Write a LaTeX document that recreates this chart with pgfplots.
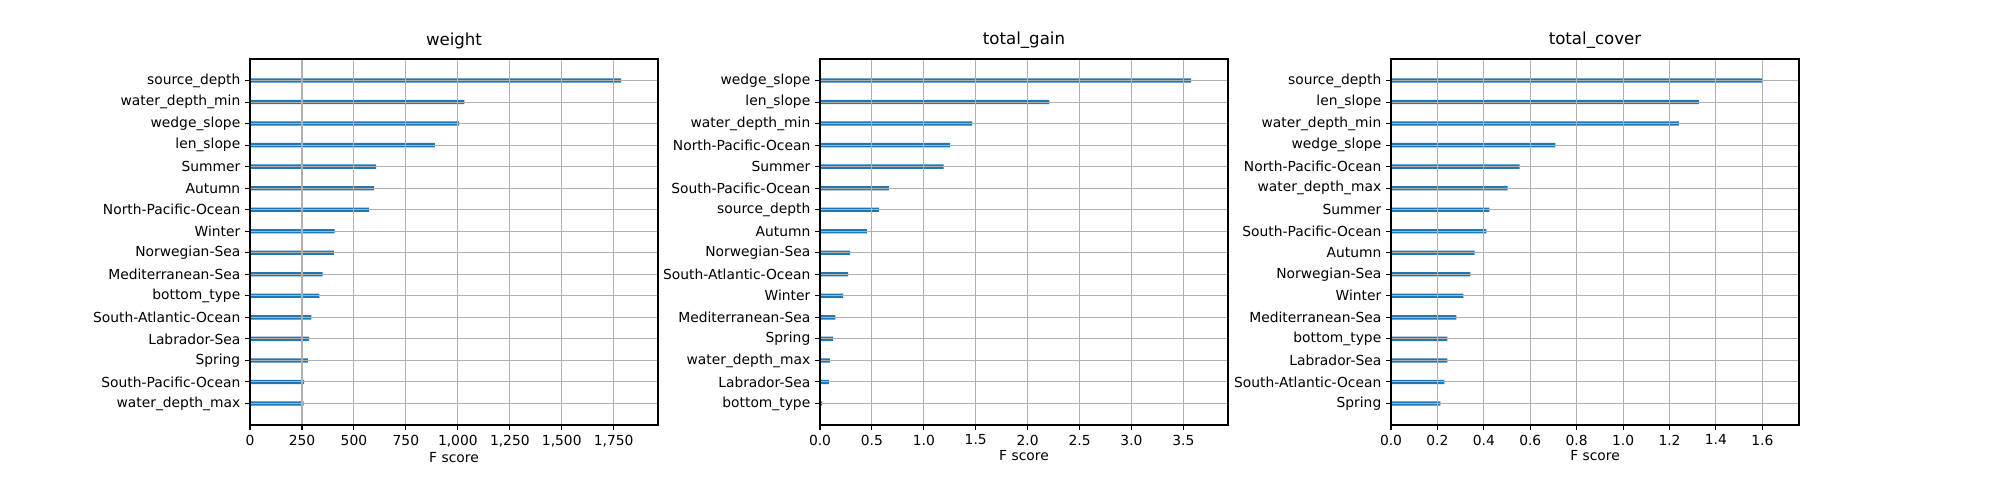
\documentclass[border=0pt]{standalone}
\usepackage{pgfplots}
\pgfplotsset{compat=1.18}
\usepackage{fontspec}
\setmainfont{DejaVu Sans}
\definecolor{mblue}{HTML}{1F77B4}
\definecolor{mgrid}{HTML}{B0B0B0}
\pgfplotsset{
  imp/.style={
    width=4.08in, height=3.66in, scale only axis, anchor=south west,
    xbar, bar width=0.2, ymin=-1, ymax=16, xmin=0,
    ytick={0,...,15}, grid=both, major grid style={mgrid, line width=0.8pt},
    axis on top, tick align=outside, tick pos=left,
    major tick length=3.5pt, tick style={black, line width=0.8pt},
    axis line style={line width=0.8pt},
    /pgf/number format/assume math mode=true,
    ticklabel style={font=\fontsize{10}{12}\selectfont},
    title style={font=\fontsize{12}{14}\selectfont, yshift=-2pt},
    xlabel style={font=\fontsize{10}{12}\selectfont, yshift=3pt},
    xlabel={F score},
  }
}
\begin{document}
\begin{tikzpicture}
\path[use as bounding box] (0,0) rectangle (20in,5in);
\begin{axis}[imp, at={(2.50in,0.75in)}, title={weight}, xmax=1963,
  xtick={0,250,...,1750},
  yticklabels={water\_depth\_max,South-Pacific-Ocean,Spring,Labrador-Sea,South-Atlantic-Ocean,bottom\_type,Mediterranean-Sea,Norwegian-Sea,Winter,North-Pacific-Ocean,Autumn,Summer,len\_slope,wedge\_slope,water\_depth\_min,source\_depth}]
\addplot[fill=mblue, draw=none] coordinates {(258,0) (260,1) (278,2) (285,3) (295,4) (334,5) (349,6) (403,7) (407,8) (573,9) (597,10) (607,11) (890,12) (1006,13) (1031,14) (1785,15)};
\end{axis}
\begin{axis}[imp, at={(8.20in,0.75in)}, title={total\_gain}, xmax=3.93,
  xtick={0,0.5,...,3.5}, xticklabel style={/pgf/number format/.cd, fixed, fixed zerofill, precision=1},
  yticklabels={bottom\_type,Labrador-Sea,water\_depth\_max,Spring,Mediterranean-Sea,Winter,South-Atlantic-Ocean,Norwegian-Sea,Autumn,source\_depth,South-Pacific-Ocean,Summer,North-Pacific-Ocean,water\_depth\_min,len\_slope,wedge\_slope}]
\addplot[fill=mblue, draw=none] coordinates {(0.02,0) (0.085,1) (0.095,2) (0.127,3) (0.147,4) (0.222,5) (0.27,6) (0.29,7) (0.452,8) (0.567,9) (0.663,10) (1.19,11) (1.253,12) (1.465,13) (2.21,14) (3.574,15)};
\node[anchor=north east, font=\fontsize{10}{12}\selectfont] at (rel axis cs:1,0) [yshift=-16pt] {1e10};
\end{axis}
\begin{axis}[imp, at={(13.91in,0.75in)}, title={total\_cover}, xmax=1.758,
  xtick={0,0.2,...,1.6}, xticklabel style={/pgf/number format/.cd, fixed, fixed zerofill, precision=1},
  yticklabels={Spring,South-Atlantic-Ocean,Labrador-Sea,bottom\_type,Mediterranean-Sea,Winter,Norwegian-Sea,Autumn,South-Pacific-Ocean,Summer,water\_depth\_max,North-Pacific-Ocean,wedge\_slope,water\_depth\_min,len\_slope,source\_depth}]
\addplot[fill=mblue, draw=none] coordinates {(0.213,0) (0.230,1) (0.243,2) (0.243,3) (0.282,4) (0.312,5) (0.342,6) (0.360,7) (0.411,8) (0.424,9) (0.502,10) (0.554,11) (0.708,12) (1.24,13) (1.327,14) (1.60,15)};
\node[anchor=north east, font=\fontsize{10}{12}\selectfont] at (rel axis cs:1,0) [yshift=-16pt] {1e6};
\end{axis}
\end{tikzpicture}
\end{document}
